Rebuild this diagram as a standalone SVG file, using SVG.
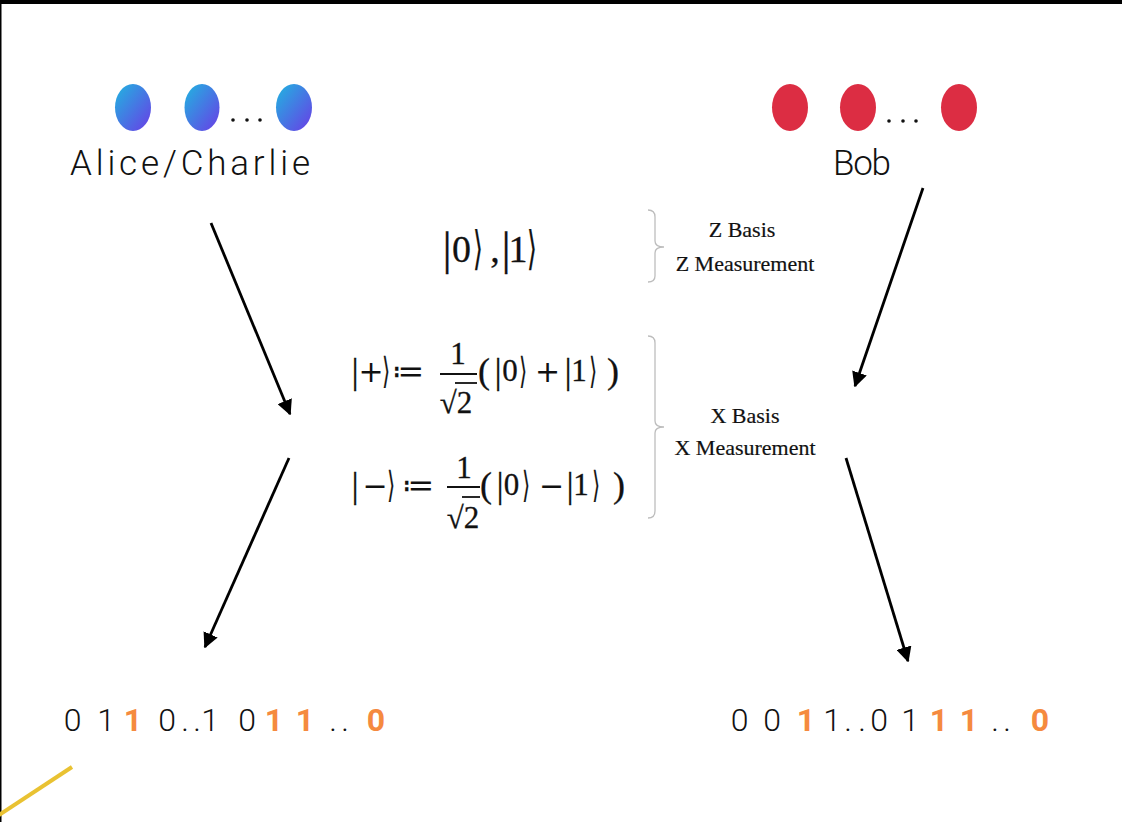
<svg xmlns="http://www.w3.org/2000/svg" width="1122" height="822" viewBox="0 0 1122 822">
  <defs>
    <linearGradient id="qubitBlue" x1="0" y1="0" x2="1" y2="1">
      <stop offset="0" stop-color="#1fb6e0"/>
      <stop offset="1" stop-color="#6a3ce6"/>
    </linearGradient>
    <marker id="head" viewBox="0 0 10 10" refX="9" refY="5" markerWidth="5.5" markerHeight="5.5" orient="auto" markerUnits="strokeWidth">
      <path d="M0,0 L10,5 L0,10 z" fill="#000"/>
    </marker>
  </defs>
  <style>
    .label { font-family: "Roboto", "Liberation Sans", sans-serif; font-weight: 300; font-size: 35px; fill: #111; }
    .bit { font-family: "Roboto", "Liberation Sans", sans-serif; font-weight: 300; font-size: 32px; fill: #111; text-anchor: middle; }
    .bit.key { font-weight: 700; fill: #f58a3f; }
    .m { font-family: "Liberation Serif", "DejaVu Serif", serif; font-size: 31px; fill: #111; stroke: #111; stroke-width: 0.3; text-anchor: middle; }
    .mt { font-size: 36px; }
    .op { font-family: "DejaVu Sans", sans-serif; font-size: 30px; stroke-width: 0; }
    .def { font-family: "DejaVu Sans", sans-serif; font-size: 32px; stroke-width: 0; }
    .mz { font-size: 38px; }
    .mzt { font-size: 46px; }
    .basis { font-family: "Liberation Serif", serif; font-size: 22px; fill: #111; text-anchor: middle; stroke: #111; stroke-width: 0.2; }
    .brace { fill: none; stroke: #bdbdbd; stroke-width: 1.3; }
    .arrow { fill: none; stroke: #000; stroke-width: 2.8; marker-end: url(#head); }
    .bar { stroke: #111; stroke-width: 1.8; }
  </style>

  <rect x="0" y="0" width="1122" height="822" fill="#fff"/>
  <!-- frame edges -->
  <rect x="0" y="0" width="1122" height="4" fill="#000"/>
  <rect x="0" y="0" width="1.5" height="822" fill="#000"/>
  <line x1="72" y1="767" x2="-4" y2="817" stroke="#e9c232" stroke-width="4"/>

  <g id="alice-charlie">
    <ellipse cx="133" cy="107.5" rx="18" ry="23.5" fill="url(#qubitBlue)"/>
    <ellipse cx="202" cy="107.5" rx="17.5" ry="23.5" fill="url(#qubitBlue)"/>
    <ellipse cx="294" cy="107.5" rx="18" ry="23.5" fill="url(#qubitBlue)"/>
    <circle cx="233" cy="120" r="1.8" fill="#111"/>
    <circle cx="247" cy="120" r="1.8" fill="#111"/>
    <circle cx="260" cy="120" r="1.8" fill="#111"/>
    <text class="label" x="70" y="175" textLength="240" lengthAdjust="spacing">Alice/Charlie</text>
  </g>

  <g id="bob">
    <ellipse cx="790" cy="107.5" rx="18" ry="23.5" fill="#dc2d43"/>
    <ellipse cx="858" cy="107.5" rx="18" ry="23.5" fill="#dc2d43"/>
    <ellipse cx="959" cy="107.5" rx="18" ry="23.5" fill="#dc2d43"/>
    <circle cx="889" cy="121" r="1.8" fill="#111"/>
    <circle cx="903" cy="121" r="1.8" fill="#111"/>
    <circle cx="916" cy="121" r="1.8" fill="#111"/>
    <text class="label" x="833" y="175" textLength="58" lengthAdjust="spacing">Bob</text>
  </g>

  <g id="z-basis">
    <!-- |0>, |1> -->
    <text class="m mzt" x="447" y="264">|</text>
    <text class="m mz" x="461.5" y="262">0</text>
    <text class="m mzt" transform="translate(478 264) scale(0.55 1)">⟩</text>
    <text class="m mz" x="495" y="262">,</text>
    <text class="m mzt" x="506" y="264">|</text>
    <text class="m mz" x="518" y="262">1</text>
    <text class="m mzt" transform="translate(532 264) scale(0.55 1)">⟩</text>
    <path class="brace" d="M648,210 Q655,210 655,217 L655,241 Q655,247 664,247 Q655,247 655,253 L655,276 Q655,282 648,282"/>
    <text class="basis" x="742" y="237">Z Basis</text>
    <text class="basis" x="745" y="271">Z Measurement</text>
  </g>

  <g id="x-basis">
    <!-- |+> := 1/sqrt2 (|0> + |1>) -->
    <text class="m mt" x="355" y="383">|</text>
    <text class="m op" x="371" y="382">+</text>
    <text class="m mt" transform="translate(386 383) scale(0.55 1)">⟩</text>
    <text class="m def" x="408" y="382">≔</text>
    <text class="m" x="458" y="364">1</text>
    <line class="bar" x1="440" y1="374" x2="477" y2="374"/>
    <text class="m" x="456" y="413">√2</text>
    <line class="bar" x1="455" y1="383" x2="477" y2="383"/>
    <text class="m mt" x="484" y="383">(</text>
    <text class="m mt" x="498" y="383">|</text>
    <text class="m" x="510" y="381">0</text>
    <text class="m mt" transform="translate(523 383) scale(0.55 1)">⟩</text>
    <text class="m op" x="547.5" y="382">+</text>
    <text class="m mt" x="568" y="383">|</text>
    <text class="m" x="579" y="381">1</text>
    <text class="m mt" transform="translate(593 383) scale(0.55 1)">⟩</text>
    <text class="m mt" x="613" y="383">)</text>

    <!-- |-> := 1/sqrt2 (|0> - |1>) -->
    <text class="m mt" x="355" y="497">|</text>
    <text class="m op" x="375" y="496">−</text>
    <text class="m mt" transform="translate(391 497) scale(0.55 1)">⟩</text>
    <text class="m def" x="418" y="496">≔</text>
    <text class="m" x="464" y="478">1</text>
    <line class="bar" x1="447" y1="487" x2="480" y2="487"/>
    <text class="m" x="463" y="528">√2</text>
    <line class="bar" x1="462" y1="497" x2="480" y2="497"/>
    <text class="m mt" x="486" y="497">(</text>
    <text class="m mt" x="500" y="497">|</text>
    <text class="m" x="511.5" y="495">0</text>
    <text class="m mt" transform="translate(526 497) scale(0.55 1)">⟩</text>
    <text class="m op" x="551.5" y="496">−</text>
    <text class="m mt" x="570" y="497">|</text>
    <text class="m" x="581" y="495">1</text>
    <text class="m mt" transform="translate(596 497) scale(0.55 1)">⟩</text>
    <text class="m mt" x="619" y="497">)</text>

    <path class="brace" d="M648,336 Q655,336 655,343 L655,421 Q655,427 664,427 Q655,427 655,433 L655,511 Q655,518 648,518"/>
    <text class="basis" x="745" y="423">X Basis</text>
    <text class="basis" x="745" y="455">X Measurement</text>
  </g>

  <g id="alice-bits">
    <text class="bit" x="72.5" y="731">0</text>
    <text class="bit" x="106" y="731">1</text>
    <text class="bit key" x="133" y="731">1</text>
    <text class="bit" x="167" y="731">0</text>
    <text class="bit" x="185" y="731">.</text>
    <text class="bit" x="197" y="731">.</text>
    <text class="bit" x="210" y="731">1</text>
    <text class="bit" x="247" y="731">0</text>
    <text class="bit key" x="274" y="731">1</text>
    <text class="bit key" x="305" y="731">1</text>
    <text class="bit" x="333" y="731">.</text>
    <text class="bit" x="345" y="731">.</text>
    <text class="bit key" x="376" y="731">0</text>
  </g>

  <g id="bob-bits">
    <text class="bit" x="739.5" y="731">0</text>
    <text class="bit" x="772" y="731">0</text>
    <text class="bit key" x="806" y="731">1</text>
    <text class="bit" x="832" y="731">1</text>
    <text class="bit" x="848" y="731">.</text>
    <text class="bit" x="862" y="731">.</text>
    <text class="bit" x="879" y="731">0</text>
    <text class="bit" x="910" y="731">1</text>
    <text class="bit key" x="939" y="731">1</text>
    <text class="bit key" x="969" y="731">1</text>
    <text class="bit" x="995" y="731">.</text>
    <text class="bit" x="1007" y="731">.</text>
    <text class="bit key" x="1040" y="731">0</text>
  </g>

  <g id="connectors">
    <line class="arrow" x1="211" y1="223" x2="290" y2="414"/>
    <line class="arrow" x1="289" y1="458" x2="205" y2="647"/>
    <line class="arrow" x1="923" y1="188" x2="855" y2="386"/>
    <line class="arrow" x1="846" y1="458" x2="908" y2="661"/>
  </g>
</svg>
